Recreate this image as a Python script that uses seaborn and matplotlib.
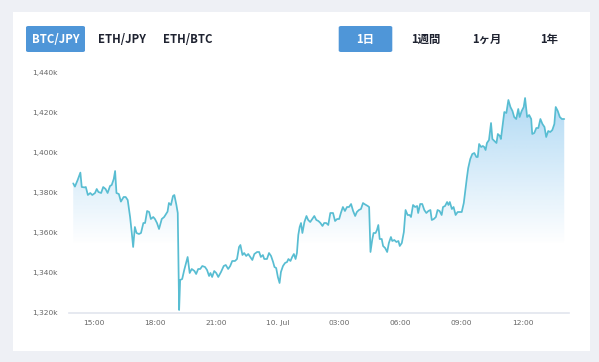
import numpy as np
import pandas as pd
import matplotlib
matplotlib.use("Agg")
import matplotlib.pyplot as plt
import matplotlib.dates as mdates
from matplotlib.ticker import FuncFormatter
from matplotlib.patches import FancyBboxPatch, Rectangle
import seaborn as sns

# ---------------- data ----------------
base_date = "2018-07-09"
minutes = [839, 844, 852, 860, 864, 872, 876, 882, 889, 895, 903, 908, 913, 921, 927, 934, 940, 947, 952, 958,
           962, 966, 973, 979, 987, 993, 999, 1006, 1011, 1015, 1020, 1025, 1032, 1038, 1045, 1050, 1056, 1062,
           1067, 1074, 1079, 1085, 1091, 1099, 1106,
           1116, 1120, 1126, 1132, 1136, 1142, 1146, 1150, 1153, 1159, 1165, 1175, 1181, 1187, 1195, 1200, 1206,
           1212, 1218, 1226, 1232, 1238, 1242, 1247, 1253, 1259, 1265, 1273, 1281, 1287, 1294, 1300, 1306, 1314,
           1320, 1326, 1330, 1336, 1341, 1347, 1353, 1359, 1365, 1371, 1379, 1385, 1390, 1396, 1400,
           1408, 1414, 1420, 1426, 1430, 1435, 1440, 1445, 1449, 1455, 1461, 1467, 1471, 1477, 1482, 1487, 1492,
           1496, 1500, 1504, 1508, 1512, 1518, 1524, 1529, 1535, 1541, 1547, 1553, 1559, 1565, 1571, 1576, 1582,
           1588, 1594, 1602, 1608, 1614, 1620, 1625, 1631, 1637, 1643, 1649, 1655, 1661, 1667, 1672, 1678, 1684,
           1690, 1694,
           1704, 1708, 1712, 1717, 1721, 1727, 1731, 1735, 1739, 1745, 1749, 1755, 1761, 1766, 1772, 1776, 1782,
           1788, 1794, 1798, 1804, 1810, 1815, 1821, 1827, 1831, 1837, 1843, 1849, 1852, 1858, 1864, 1870, 1876,
           1882, 1888, 1892, 1898, 1904, 1909, 1915, 1921, 1925, 1931, 1937, 1941, 1945, 1951, 1956, 1962, 1968,
           1974, 1980, 1986,
           1995, 1999, 2005, 2011, 2017, 2023, 2027, 2031, 2037, 2042, 2046, 2050, 2054, 2060, 2066, 2070, 2076,
           2082, 2086, 2092, 2095, 2101, 2105, 2111, 2117, 2123, 2129, 2134, 2140, 2146, 2150, 2156, 2162, 2166,
           2172, 2178, 2184, 2187, 2193, 2199, 2205, 2211, 2217, 2223, 2228, 2234, 2240, 2246, 2252, 2256, 2262,
           2268, 2274, 2281]
price_k = [1384.8, 1383.2, 1386.5, 1390.2, 1383, 1382.8, 1383, 1379, 1380, 1379, 1380, 1382, 1380.5, 1380, 1383,
           1382, 1380, 1383.5, 1384, 1387, 1391, 1380, 1379.5, 1375.7, 1378, 1378, 1376.5, 1368, 1360, 1353, 1363,
           1360, 1359.5, 1360, 1365, 1365, 1371, 1370.5, 1367, 1368, 1367, 1365, 1362, 1367, 1368,
           1370.7, 1375, 1374, 1378.5, 1379, 1374, 1370, 1321.5, 1336.5, 1337, 1341.5, 1348, 1340, 1342, 1341,
           1339.5, 1342, 1342, 1343.5, 1343, 1341.5, 1338.5, 1340, 1338, 1341, 1340, 1338, 1340.5, 1343.5, 1344,
           1342, 1343.5, 1346, 1346, 1347, 1353, 1354, 1349, 1350, 1348.5, 1349.5, 1348, 1346.5, 1349.5, 1350.5,
           1350.5, 1348, 1349, 1347,
           1347, 1350, 1348.5, 1345.5, 1343, 1342.5, 1338, 1335, 1340.5, 1343.5, 1345, 1345.5, 1347, 1346, 1348,
           1349.5, 1347, 1350, 1359, 1363, 1365, 1360, 1365.5, 1368.5, 1366.5, 1365.5, 1367, 1368.5, 1366.5, 1366,
           1365, 1363.5, 1365, 1365, 1364, 1370, 1370, 1366, 1367, 1367, 1370, 1373, 1371, 1373, 1373, 1374.5,
           1371, 1368.5, 1370.5, 1371.5, 1372, 1375, 1374.5,
           1373.5, 1373, 1350.5, 1356.5, 1360, 1360, 1361.5, 1364, 1357, 1357, 1353.5, 1352.5, 1350.5, 1355, 1358,
           1356, 1356.5, 1355.5, 1356, 1353.5, 1355, 1360.5, 1371.5, 1369, 1369, 1368, 1374, 1373, 1373.5, 1370,
           1374.5, 1374.5, 1371.5, 1370, 1371, 1371.5, 1366.5, 1367, 1368, 1371.5, 1371, 1369, 1373, 1373.5,
           1375.5, 1374, 1375.5, 1372, 1373, 1369, 1370.5, 1370.5, 1370.5, 1375,
           1387.5, 1392.5, 1397, 1399.5, 1400, 1398, 1398, 1404.5, 1403, 1403.5, 1403, 1401.5, 1405, 1406.5, 1415,
           1407, 1406, 1405, 1409.5, 1408.5, 1407, 1415, 1420.5, 1420, 1426.5, 1423, 1421, 1418, 1417, 1422, 1418,
           1421, 1423, 1427.5, 1418, 1419, 1417, 1409.5, 1410, 1412.5, 1412.5, 1417, 1414.5, 1413, 1408, 1411,
           1410.5, 1411.5, 1414.5, 1423, 1421, 1418, 1417, 1417]
y_ticks_k = [1320, 1340, 1360, 1380, 1400, 1420, 1440]
pair_buttons = ["BTC/JPY", "ETH/JPY", "ETH/BTC"]
range_buttons = ["1日", "1週間", "1ヶ月", "1年"]

df = pd.DataFrame({
    "time": pd.Timestamp(base_date) + pd.to_timedelta(minutes, unit="m"),
    "price": price_k,
})

# ---------------- figure ----------------
W, H = 599, 362
sns.set_theme(style="white")
plt.rcParams["font.family"] = ["DejaVu Sans"]
fig = plt.figure(figsize=(W / 100, H / 100), dpi=100)
fig.patch.set_facecolor("#eef0f5")

def fx(px):
    return px / W

def fy(py):
    return 1 - py / H

# white card
fig.add_artist(Rectangle((fx(12.5), fy(350.7)), fx(590) - fx(12.5), fy(12.3) - fy(350.7),
                         transform=fig.transFigure, facecolor="white", edgecolor="none", zorder=0))

BLUE = "#4f96d8"
def button(x0, x1, y0, y1, label, cx, active):
    if active:
        fig.add_artist(FancyBboxPatch((fx(x0), fy(y1)), fx(x1) - fx(x0), fy(y0) - fy(y1),
                                      boxstyle="round,pad=0,rounding_size=0.004",
                                      transform=fig.transFigure, facecolor=BLUE, edgecolor="none", zorder=1))
    fig.text(fx(cx), fy(39.3), label, ha="center", va="center", fontsize=8.2, fontweight="bold",
             color="white" if active else "#1e2230",
             family=["Noto Sans CJK JP", "DejaVu Sans"], zorder=2)

button(26, 85, 26, 52, pair_buttons[0], 55.5, True)
button(0, 0, 0, 0, pair_buttons[1], 121.5, False)
button(0, 0, 0, 0, pair_buttons[2], 188, False)
button(338.7, 392.3, 26, 52, range_buttons[0], 365.5, True)
button(0, 0, 0, 0, range_buttons[1], 426.3, False)
button(0, 0, 0, 0, range_buttons[2], 487.3, False)
button(0, 0, 0, 0, range_buttons[3], 549, False)

# plot axes
ax = fig.add_axes([fx(69), fy(313), fx(569) - fx(69), fy(73) - fy(313)])
ax.set_facecolor("none")

x0 = pd.Timestamp(base_date) + pd.Timedelta(minutes=826.6)
x1 = pd.Timestamp(base_date) + pd.Timedelta(minutes=2295)

# gradient fill under the line
poly = ax.fill_between(df["time"], df["price"], y_ticks_k[0], facecolor="none", edgecolor="none")
grad_v = np.linspace(y_ticks_k[0], y_ticks_k[-1], 256)
alpha = np.clip(0.5 * (grad_v - 1354) / (1440 - 1354), 0, 1)
rgba = np.zeros((256, 1, 4))
rgba[..., 0] = 74 / 255
rgba[..., 1] = 168 / 255
rgba[..., 2] = 230 / 255
rgba[:, 0, 3] = alpha
im = ax.imshow(rgba, origin="lower", aspect="auto",
               extent=[mdates.date2num(x0), mdates.date2num(x1), y_ticks_k[0], y_ticks_k[-1]],
               zorder=1, interpolation="bilinear")
im.set_clip_path(poly.get_paths()[0], transform=ax.transData)

sns.lineplot(data=df, x="time", y="price", ax=ax, color="#58bdd2", linewidth=1.25, zorder=3)

ax.set_xlim(x0, x1)
ax.set_ylim(y_ticks_k[0], y_ticks_k[-1])
ax.set_yticks(y_ticks_k)
ax.yaxis.set_major_formatter(FuncFormatter(lambda v, p: f"{v:,.0f}k"))
ax.xaxis.set_major_locator(mdates.HourLocator(byhour=range(0, 24, 3)))

def xfmt(v, p):
    d = mdates.num2date(v)
    if d.hour == 0 and d.minute == 0:
        return f"{d.day}. Jul"
    return d.strftime("%H:%M")

ax.xaxis.set_major_formatter(FuncFormatter(xfmt))
ax.set_xlabel("")
ax.set_ylabel("")
for s in ["top", "right", "left"]:
    ax.spines[s].set_visible(False)
ax.spines["bottom"].set_color("#e2e5ee")
ax.spines["bottom"].set_linewidth(1.2)
ax.tick_params(axis="both", length=0, labelsize=5.4, colors="#666666")
ax.tick_params(axis="y", pad=8)
ax.tick_params(axis="x", pad=5)
ax.grid(False)

fig.savefig("out.png", dpi=100, facecolor=fig.get_facecolor())
